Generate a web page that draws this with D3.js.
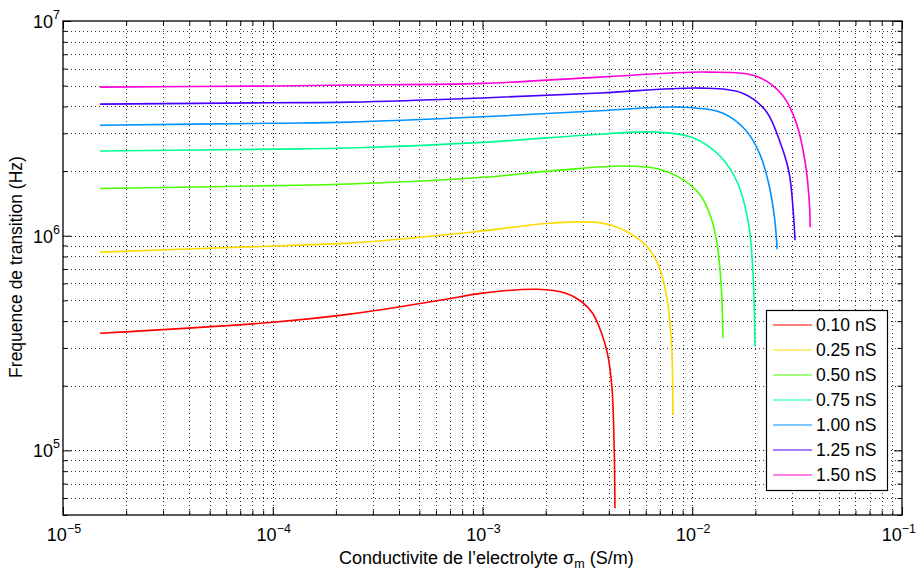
<!DOCTYPE html>
<html><head><meta charset="utf-8">
<script src="https://cdn.jsdelivr.net/npm/d3@7"></script>
<style>
body{margin:0;background:#fff}
svg{display:block}
text{font-family:"Liberation Sans",Arial,Helvetica,sans-serif;fill:#000}
</style>
</head><body>
<svg id="chart" width="917" height="572"></svg>
<script>
// ---- data ----
const seriesLabels = ["0.10 nS","0.25 nS","0.50 nS","0.75 nS","1.00 nS","1.25 nS","1.50 nS"];
const seriesColors = ["#ff0000","#ffdb00","#49ff00","#00ff92","#0092ff","#4900ff","#ff00db"];

const g010 = [[1.5e-5,3.51e5],[1e-4,3.95e5],[2.33e-4,4.31e5],[6.26e-4,5.0e5],[1.0e-3,5.4e5],[1.82e-3,5.63e5],[2.5e-3,5.4e5],[2.95e-3,4.95e5],[3.35e-3,4.35e5],[3.7e-3,3.5e5],[3.95e-3,2.8e5],[4.14e-3,1.97e5],[4.24e-3,1.08e5],[4.28e-3,5.37e4]];
const g025 = [[1.5e-5,8.38e5],[1e-4,8.95e5],[2.33e-4,9.23e5],[9.0e-4,1.04e6],[2.0e-3,1.14e6],[2.92e-3,1.16e6],[3.63e-3,1.15e6],[4.52e-3,1.084e6],[5.64e-3,9.53e5],[6.29e-3,8.56e5],[7.02e-3,7.0e5],[7.6e-3,5.0e5],[7.95e-3,3.2e5],[8.10e-3,1.46e5]];
const g050 = [[1.5e-5,1.66e6],[1e-4,1.71e6],[2.33e-4,1.74e6],[1e-3,1.87e6],[2.34e-3,2.02e6],[4.7e-3,2.11e6],[6.8e-3,2.05e6],[9.0e-3,1.83e6],[1.09e-2,1.55e6],[1.24e-2,1.18e6],[1.32e-2,8.84e5],[1.375e-2,5.75e5],[1.40e-2,3.33e5]];
const g075 = [[1.5e-5,2.48e6],[1e-4,2.53e6],[2.33e-4,2.56e6],[1e-3,2.72e6],[3.63e-3,2.97e6],[6.6e-3,3.04e6],[1.008e-2,2.86e6],[1.356e-2,2.35e6],[1.65e-2,1.75e6],[1.86e-2,1.12e6],[1.95e-2,6.54e5],[1.99e-2,3.05e5]];
const g100 = [[1.5e-5,3.27e6],[1e-4,3.34e6],[2.33e-4,3.38e6],[1e-3,3.58e6],[3.63e-3,3.82e6],[8.7e-3,3.97e6],[1.4e-2,3.72e6],[1.8e-2,3.1e6],[2.1e-2,2.4e6],[2.33e-2,1.7e6],[2.47e-2,1.2e6],[2.54e-2,8.65e5]];
const g125 = [[1.5e-5,4.10e6],[1e-4,4.16e6],[2.33e-4,4.19e6],[1e-3,4.38e6],[3.63e-3,4.62e6],[1.1e-2,4.87e6],[1.75e-2,4.6e6],[2.25e-2,3.8e6],[2.65e-2,2.65e6],[2.9e-2,1.95e6],[3.03e-2,1.3e6],[3.09e-2,9.53e5]];
const g150 = [[1.5e-5,4.92e6],[1e-4,4.98e6],[2.33e-4,5.03e6],[1e-3,5.12e6],[3.63e-3,5.48e6],[1.19e-2,5.78e6],[2.05e-2,5.5e6],[2.7e-2,4.5e6],[3.15e-2,3.3e6],[3.48e-2,2.1e6],[3.62e-2,1.4e6],[3.65e-2,1.095e6]];
const seriesData = [g010,g025,g050,g075,g100,g125,g150];

const xDomain = [1e-5, 1e-1];
const yDomain = [5e4, 1e7];
const xMajorTicks = [1e-5,1e-4,1e-3,1e-2,1e-1];
const xTickExponents = ["\u22125","\u22124","\u22123","\u22122","\u22121"];
const yMajorTicks = [1e5,1e6,1e7];
const yTickExponents = ["5","6","7"];
const xLabelMain = "Conductivite de l\u2019electrolyte \u03c3";
const xLabelSub = "m";
const xLabelTail = " (S/m)";
const yLabel = "Frequence de transition (Hz)";

// ---- layout ----
const W = 917, H = 572;
const m = {left:63, right:15, top:21, bottom:57};
const iw = W - m.left - m.right, ih = H - m.top - m.bottom;

const svg = d3.select("#chart");
svg.append("rect").attr("width",W).attr("height",H).attr("fill","#fff");

const x = d3.scaleLog().domain(xDomain).range([0, iw]);
const y = d3.scaleLog().domain(yDomain).range([ih, 0]);

const g = svg.append("g").attr("transform",`translate(${m.left},${m.top})`);

const isMajor = v => Math.abs(Math.log10(v) - Math.round(Math.log10(v))) < 1e-9;
const xAll = x.ticks();
const yAll = y.ticks();
const xMinor = xAll.filter(v => !isMajor(v));
const yMinor = yAll.filter(v => !isMajor(v));

// grid
const grid = g.append("g").attr("stroke","#000").attr("stroke-width",1).attr("stroke-dasharray","1,3").attr("fill","none");
grid.selectAll(".gx").data(xAll.filter(v=>x(v)>0.5 && x(v)<iw-0.5)).join("line")
  .attr("x1",d=>Math.round(x(d))+0.5).attr("x2",d=>Math.round(x(d))+0.5).attr("y1",0).attr("y2",ih)
  .attr("stroke-opacity",d=>isMajor(d)?1:0.8);
grid.selectAll(".gy").data(yAll.filter(v=>y(v)>0.5 && y(v)<ih-0.5)).join("line")
  .attr("y1",d=>Math.round(y(d))+0.5).attr("y2",d=>Math.round(y(d))+0.5).attr("x1",0).attr("x2",iw)
  .attr("stroke-opacity",d=>isMajor(d)?1:0.8);

// curves
svg.append("clipPath").attr("id","plotclip").append("rect").attr("width",iw).attr("height",ih);
const line = d3.line().x(d=>x(d[0])).y(d=>y(d[1])).curve(d3.curveCatmullRom.alpha(0.5));
g.append("g").attr("clip-path","url(#plotclip)")
  .selectAll("path").data(seriesData).join("path")
  .attr("d", line).attr("fill","none")
  .attr("stroke",(d,i)=>seriesColors[i]).attr("stroke-width",1.6);

// axes ticks (inward, all four sides)
function styleAxis(sel){ sel.select(".domain").remove(); sel.selectAll("line").attr("stroke","#000"); sel.selectAll("text").remove(); }
const majLen = 8, minLen = 4.5;
g.append("g").attr("transform",`translate(0,${ih})`).call(d3.axisBottom(x).tickValues(xMajorTicks).tickSizeInner(-majLen).tickSizeOuter(0)).call(styleAxis);
g.append("g").attr("transform",`translate(0,${ih})`).call(d3.axisBottom(x).tickValues(xMinor).tickSizeInner(-minLen).tickSizeOuter(0)).call(styleAxis);
g.append("g").call(d3.axisTop(x).tickValues(xMajorTicks).tickSizeInner(-majLen).tickSizeOuter(0)).call(styleAxis);
g.append("g").call(d3.axisTop(x).tickValues(xMinor).tickSizeInner(-minLen).tickSizeOuter(0)).call(styleAxis);
g.append("g").call(d3.axisLeft(y).tickValues(yMajorTicks).tickSizeInner(-majLen).tickSizeOuter(0)).call(styleAxis);
g.append("g").call(d3.axisLeft(y).tickValues(yMinor).tickSizeInner(-minLen).tickSizeOuter(0)).call(styleAxis);
g.append("g").attr("transform",`translate(${iw},0)`).call(d3.axisRight(y).tickValues(yMajorTicks).tickSizeInner(-majLen).tickSizeOuter(0)).call(styleAxis);
g.append("g").attr("transform",`translate(${iw},0)`).call(d3.axisRight(y).tickValues(yMinor).tickSizeInner(-minLen).tickSizeOuter(0)).call(styleAxis);

// frame
g.append("rect").attr("x",0).attr("y",0).attr("width",iw).attr("height",ih)
  .attr("fill","none").attr("stroke","#000").attr("stroke-width",1.3);

// tick labels
const xl = g.append("g");
xMajorTicks.forEach((v,i)=>{
  const last = i === xMajorTicks.length-1;
  const t = xl.append("text").attr("x", last ? W - m.left - 1 : x(v)+1).attr("y",ih+26)
    .attr("text-anchor", last ? "end" : "middle").attr("font-size",18);
  t.append("tspan").text("10");
  t.append("tspan").attr("dy",-8).attr("font-size",12.5).text(xTickExponents[i]);
});
const yl = g.append("g");
yMajorTicks.forEach((v,i)=>{
  const t = yl.append("text").attr("x",-3).attr("y",y(v)+7).attr("text-anchor","end").attr("font-size",18);
  t.append("tspan").text("10");
  t.append("tspan").attr("dy",-9).attr("font-size",12.5).text(yTickExponents[i]);
});

// axis titles
const xt = svg.append("text").attr("x",339).attr("y",564).attr("font-size",18);
xt.append("tspan").text(xLabelMain);
xt.append("tspan").attr("dy",4).attr("font-size",12.5).text(xLabelSub);
xt.append("tspan").attr("dy",-4).text(xLabelTail);
svg.append("text").attr("transform","translate(22,267) rotate(-90)").attr("text-anchor","middle").attr("font-size",17.5).text(yLabel);

// legend
const lg = svg.append("g");
lg.append("rect").attr("x",766.5).attr("y",310.5).attr("width",121).attr("height",180)
  .attr("fill","#fff").attr("stroke","#000").attr("stroke-width",1.2);
seriesLabels.forEach((lab,i)=>{
  const cy = 325 + 25*i;
  lg.append("line").attr("x1",773).attr("x2",812).attr("y1",cy).attr("y2",cy).attr("stroke",seriesColors[i]).attr("stroke-width",1.2);
  lg.append("text").attr("x",816).attr("y",cy+6).attr("font-size",17.5).text(lab);
});
</script>
</body></html>
